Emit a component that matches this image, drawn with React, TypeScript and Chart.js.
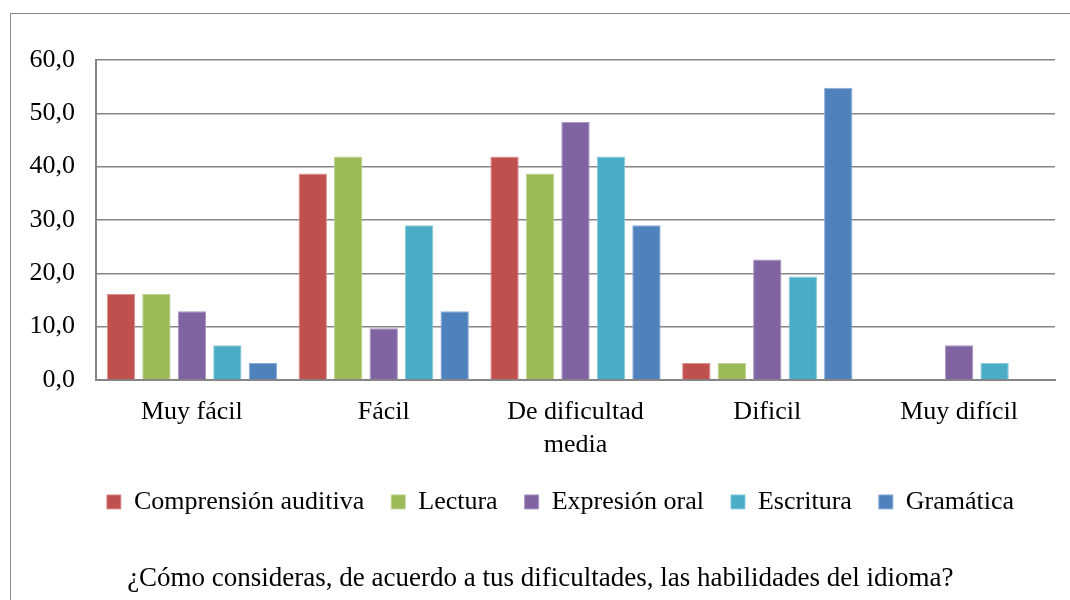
import React, { useEffect, useRef } from "react";
import { Chart, registerables } from "chart.js";

Chart.register(...registerables);

const categories: (string | string[])[] = [
  "Muy fácil",
  "Fácil",
  ["De dificultad", "media"],
  "Dificil",
  "Muy difícil",
];

const comprension = [16.1, 38.7, 41.9, 3.2, 0];
const lectura = [16.1, 41.9, 38.7, 3.2, 0];
const expresion = [12.9, 9.7, 48.4, 22.6, 6.5];
const escritura = [6.5, 29.0, 41.9, 19.4, 3.2];
const gramatica = [3.2, 12.9, 29.0, 54.8, 0];

const seriesNames = [
  "Comprensión auditiva",
  "Lectura",
  "Expresión oral",
  "Escritura",
  "Gramática",
];
const seriesColors = ["#C0504D", "#9BBB59", "#8064A2", "#4BACC6", "#4F81BD"];
const seriesBorders = ["#D9908E", "#BDD38F", "#A893C0", "#8BCADB", "#8DAAD6"];

const titleText =
  "¿Cómo consideras, de acuerdo a tus dificultades, las habilidades del idioma?";

const FONT = "'Liberation Serif', 'Times New Roman', serif";
const FS = 26;

export default function App() {
  const canvasRef = useRef<HTMLCanvasElement | null>(null);

  useEffect(() => {
    const canvas = canvasRef.current;
    if (!canvas) return;
    const values = [comprension, lectura, expresion, escritura, gramatica];
    const chart = new Chart(canvas, {
      type: "bar",
      data: {
        labels: categories,
        datasets: values.map((v, i) => ({
          label: seriesNames[i],
          data: v,
          backgroundColor: seriesColors[i],
          borderColor: seriesBorders[i],
          borderWidth: 1,
          barPercentage: 0.8,
          categoryPercentage: 0.925,
        })),
      },
      options: {
        animation: false,
        responsive: false,
        maintainAspectRatio: false,
        layout: { padding: { top: 60, right: 15, left: 66, bottom: 0 } },
        font: { family: FONT },
        plugins: {
          legend: {
            position: "bottom",
            labels: {
              font: { family: FONT, size: FS, lineHeight: 1.15 },
              color: "#000",
              boxWidth: 14,
              boxHeight: 14,
              padding: 27,
            },
          },
          title: {
            display: true,
            position: "bottom",
            text: titleText + "\u00A0\u00A0\u00A0\u00A0\u00A0\u00A0",
            color: "#000",
            font: { family: FONT, size: 27, weight: "normal", lineHeight: 1.15 },
            padding: { top: 38, bottom: 6 },
          },
          tooltip: { enabled: false },
        },
        scales: {
          x: {
            grid: { display: false, drawTicks: false },
            border: { display: true, color: "#868686", width: 2 },
            ticks: {
              color: "#000",
              font: { family: FONT, size: FS, lineHeight: 1.27 },
              padding: 16,
              maxRotation: 0,
              autoSkip: false,
            },
            afterFit: (scale: any) => {
              scale.height = 82;
            },
          },
          y: {
            min: 0,
            max: 60,
            grid: { color: "#868686", lineWidth: 1.5, drawTicks: false },
            border: { display: true, color: "#868686", width: 2 },
            ticks: {
              stepSize: 10,
              color: "#000",
              font: { family: FONT, size: FS },
              mirror: true,
              crossAlign: "far",
              padding: -66.5,
              callback: (v: any) => Number(v).toFixed(1).replace(".", ","),
            },
            afterFit: (scale: any) => {
              scale.width = 30;
            },
          },
        },
      },
    });
    return () => chart.destroy();
  }, []);

  return (
    <div
      style={{
        position: "fixed",
        left: 0,
        top: 0,
        width: 1070,
        height: 600,
        background: "#fff",
        overflow: "hidden",
      }}
    >
      <div
        style={{
          position: "absolute",
          left: 10,
          top: 13,
          width: 1070,
          height: 600,
          borderLeft: "1px solid #868686",
          borderTop: "1px solid #868686",
        }}
      />
      <canvas
        ref={canvasRef}
        width={1070}
        height={600}
        style={{ position: "absolute", left: 0, top: 0 }}
      />
    </div>
  );
}
